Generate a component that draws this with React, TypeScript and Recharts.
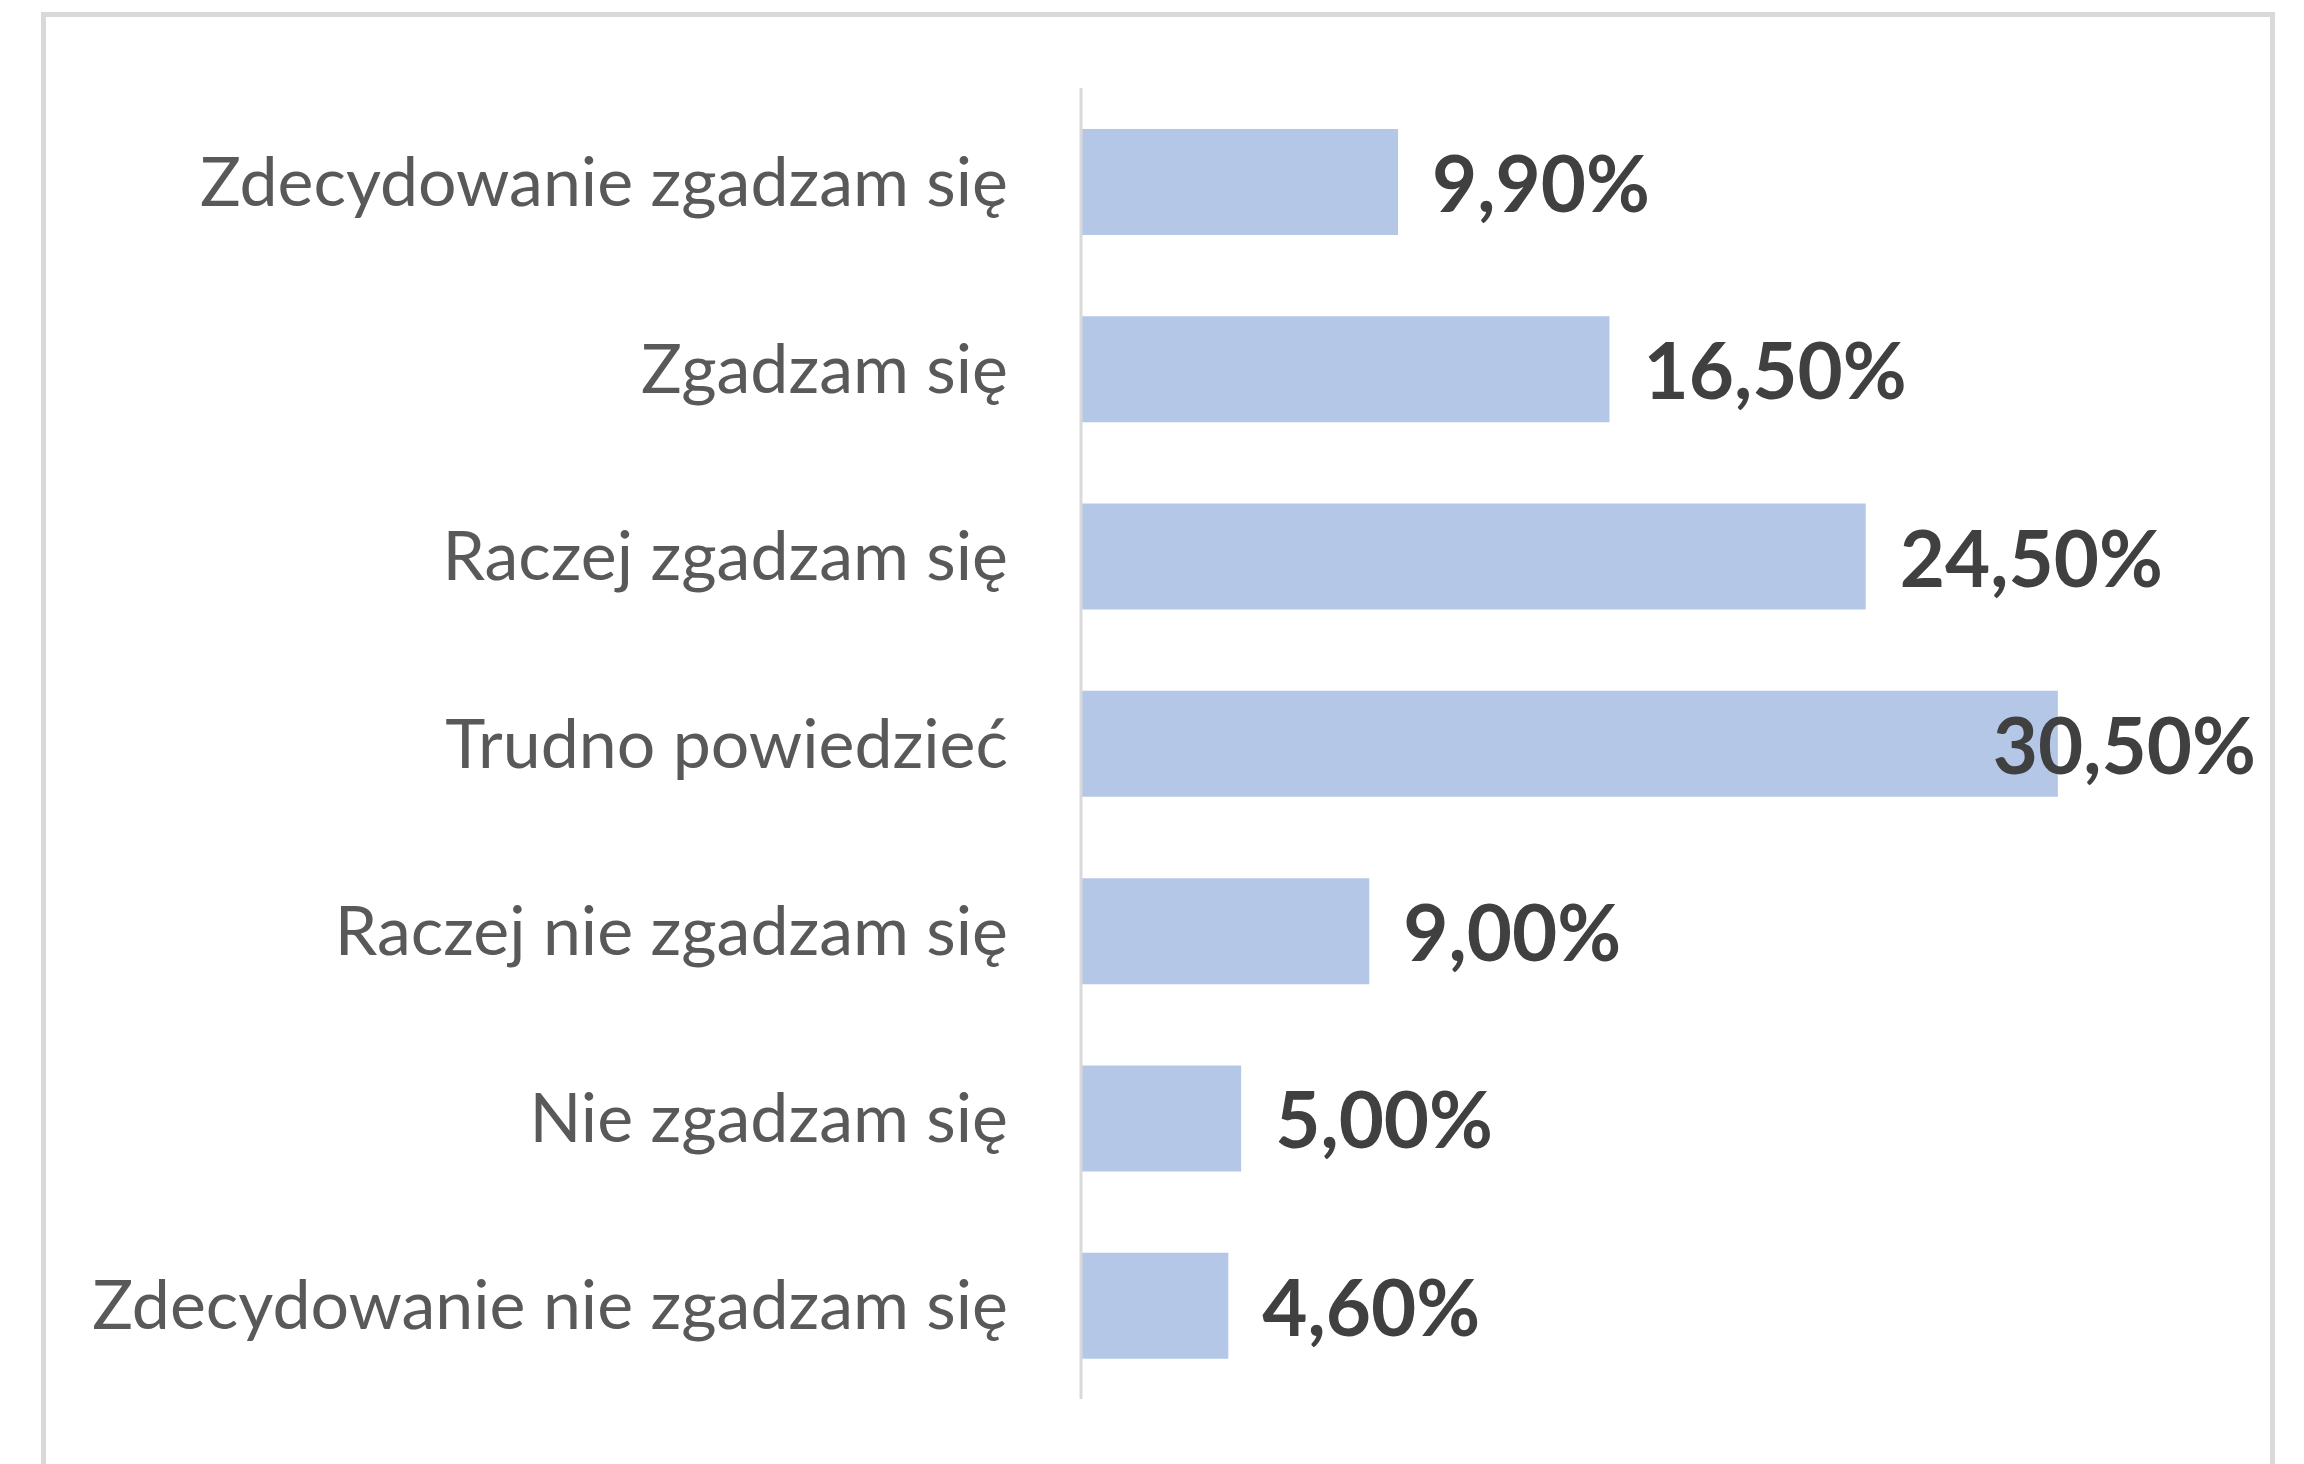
import { Bar, BarChart, LabelList, XAxis, YAxis } from "recharts";

const CATEGORIES = [
  "Zdecydowanie zgadzam się",
  "Zgadzam się",
  "Raczej zgadzam się",
  "Trudno powiedzieć",
  "Raczej nie zgadzam się",
  "Nie zgadzam się",
  "Zdecydowanie nie zgadzam się",
];
const SHARES = [9.9, 16.5, 24.5, 30.5, 9.0, 5.0, 4.6];

const rows = CATEGORIES.map((name, i) => ({ name, share: SHARES[i] }));

const FONT = "Lato, 'Open Sans', sans-serif";
const LABEL_SIZE = 78;
const LABEL_LIMIT = 2256; // Excel pushes the last label back inside the frame

let ctx: CanvasRenderingContext2D | null = null;
function measure(text: string) {
  if (!ctx) ctx = document.createElement("canvas").getContext("2d");
  if (!ctx) return text.length * LABEL_SIZE * 0.55;
  ctx.font = `bold ${LABEL_SIZE}px Lato`;
  return ctx.measureText(text).width;
}

const fmt = (v: number) => v.toFixed(2).replace(".", ",") + "%";

function ValueLabel(props: any) {
  const { x, y, width, height, value } = props;
  const text = fmt(Number(value));
  let tx = Number(x) + Number(width) + 34;
  const w = measure(text);
  if (tx + w > LABEL_LIMIT) tx = LABEL_LIMIT - w;
  return (
    <text
      x={tx}
      y={Number(y) + Number(height) / 2}
      dominantBaseline="central"
      fill="#404040"
      fontFamily={FONT}
      fontWeight={700}
      fontSize={LABEL_SIZE}
    >
      {text}
    </text>
  );
}

export default function App() {
  return (
    <div
      style={{
        position: "absolute",
        left: 0,
        top: 0,
        width: 2304,
        height: 1464,
        overflow: "hidden",
        background: "#fff",
      }}
    >
      <div
        style={{
          position: "absolute",
          left: 41,
          top: 12,
          width: 2224,
          height: 1520,
          border: "5px solid #d9d9d9",
        }}
      />
      <div style={{ position: "absolute", left: 0, top: 0 }}>
        <BarChart
          width={2304}
          height={1464}
          data={rows}
          layout="vertical"
          margin={{ top: 88, right: 102, bottom: 65, left: 0 }}
        >
          <XAxis type="number" domain={[0, 35]} hide />
          <YAxis
            type="category"
            dataKey="name"
            width={1081}
            axisLine={{ stroke: "#d9d9d9", strokeWidth: 3 }}
            tickLine={false}
            tickSize={0}
            tickMargin={73}
            tick={{ fill: "#595959", fontSize: 68, fontFamily: FONT }}
            interval={0}
          />
          <Bar dataKey="share" fill="#b4c7e7" barSize={106} isAnimationActive={false}>
            <LabelList dataKey="share" content={ValueLabel} />
          </Bar>
        </BarChart>
      </div>
    </div>
  );
}
